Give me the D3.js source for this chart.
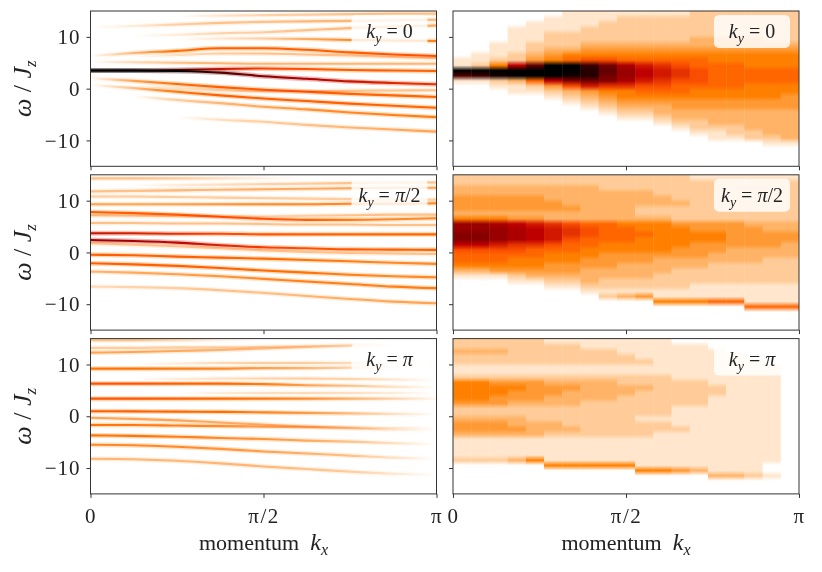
<!DOCTYPE html>
<html>
<head>
<meta charset="utf-8">
<script src="https://cdn.jsdelivr.net/npm/d3@7"></script>
<style>
  body { margin: 0; background: #fff; }
  text { font-family: "Liberation Serif", "Times New Roman", serif; fill: #222; }
</style>
</head>
<body>
<div id="chart"></div>
<script>
// kx knots for the sharp bands, in units of pi
const kxKnots = [0, 0.125, 0.25, 0.375, 0.5, 0.625, 0.75, 0.875, 1];
const xTickValues = [0, 0.5, 1];
const xTickLabels = ["0", "π/2", "π"];
const yTickValues = [-10, 0, 10];
const kyLabels = ["0", "π/2", "π"];

// left column: band energies w (omega/Jz) and weights a at each kx knot
const bandsKy0 = [
    { w: [13.8, 13.9, 14.0, 14.1, 14.2, 14.3, 14.4, 14.5, 14.5], a: [0, 0, 0, 0.04, 0.07, 0.08, 0.1, 0.1, 0.1] },
    { w: [11.8, 12.1, 12.4, 12.7, 12.9, 13.0, 13.1, 13.2, 13.3], a: [0, 0.03, 0.08, 0.1, 0.1, 0.12, 0.12, 0.12, 0.12] },
    { w: [10.0, 10.2, 10.4, 10.7, 10.9, 11.3, 11.7, 12.0, 12.2], a: [0, 0, 0.03, 0.07, 0.08, 0.1, 0.12, 0.14, 0.15] },
    { w: [9.5, 9.6, 9.6, 9.7, 9.7, 9.6, 9.4, 9.3, 9.2], a: [0, 0, 0, 0.04, 0.08, 0.14, 0.2, 0.22, 0.22] },
    { w: [6.3, 6.9, 7.3, 7.8, 7.8, 7.5, 7.0, 6.6, 6.3], a: [0, 0.12, 0.25, 0.28, 0.28, 0.28, 0.28, 0.3, 0.31] },
    { w: [6.0, 6.2, 6.5, 6.8, 6.8, 6.6, 6.4, 6.1, 5.9], a: [0, 0, 0.05, 0.08, 0.1, 0.1, 0.1, 0.1, 0.1] },
    { w: [5.2, 5.1, 5.0, 4.9, 4.8, 4.8, 4.8, 4.8, 4.8], a: [0, 0.06, 0.1, 0.12, 0.12, 0.12, 0.12, 0.12, 0.12] },
    { w: [3.5, 3.5, 3.6, 3.8, 3.9, 3.8, 3.6, 3.5, 3.4], a: [0.9, 0.9, 0.7, 0.45, 0.34, 0.3, 0.28, 0.28, 0.28] },
    { w: [3.5, 3.5, 3.4, 3.1, 2.4, 1.9, 1.4, 1.1, 0.85], a: [1, 1, 0.95, 0.75, 0.6, 0.5, 0.45, 0.4, 0.37] },
    { w: [2.0, 1.5, 0.9, 0.3, -0.2, -0.6, -1.0, -1.3, -1.6], a: [0, 0.15, 0.26, 0.28, 0.28, 0.28, 0.27, 0.27, 0.27] },
    { w: [1.0, 0.6, 0.1, -0.3, -0.5, -0.5, -0.4, -0.35, -0.3], a: [0, 0, 0.05, 0.08, 0.1, 0.1, 0.1, 0.1, 0.1] },
    { w: [0.7, 0.1, -0.6, -1.3, -1.9, -2.4, -2.9, -3.3, -3.7], a: [0, 0.1, 0.24, 0.28, 0.28, 0.28, 0.28, 0.27, 0.27] },
    { w: [-1.0, -1.5, -2.2, -2.8, -3.5, -4.0, -4.6, -5.1, -5.5], a: [0, 0, 0.08, 0.12, 0.15, 0.18, 0.2, 0.22, 0.22] },
    { w: [-4.5, -5.0, -5.5, -6.0, -6.4, -7.0, -7.5, -7.9, -8.3], a: [0, 0, 0, 0.05, 0.08, 0.1, 0.12, 0.14, 0.15] }
];

const bandsKyHalf = [
    { w: [14.3, 14.3, 14.3, 14.3, 14.3, 14.3, 14.3, 14.3, 14.3], a: [0.1, 0.1, 0.08, 0.05, 0.02, 0, 0, 0, 0] },
    { w: [12.8, 12.9, 13.0, 13.1, 13.2, 13.3, 13.4, 13.5, 13.5], a: [0, 0, 0.03, 0.05, 0.07, 0.08, 0.1, 0.1, 0.1] },
    { w: [11.8, 11.9, 12.0, 12.1, 12.2, 12.3, 12.4, 12.5, 12.5], a: [0.1, 0.1, 0.12, 0.12, 0.14, 0.14, 0.15, 0.15, 0.15] },
    { w: [10.8, 10.8, 10.7, 10.6, 10.5, 10.4, 10.3, 10.2, 10.2], a: [0.08, 0.08, 0.08, 0.08, 0.08, 0.08, 0.08, 0.08, 0.08] },
    { w: [9.3, 9.3, 9.3, 9.3, 9.3, 9.3, 9.4, 9.4, 9.5], a: [0.15, 0.15, 0.16, 0.18, 0.2, 0.2, 0.2, 0.2, 0.2] },
    { w: [7.8, 7.6, 7.3, 6.9, 6.5, 6.3, 6.3, 6.4, 6.6], a: [0.28, 0.28, 0.28, 0.3, 0.31, 0.28, 0.22, 0.2, 0.2] },
    { w: [7.2, 7.1, 7.0, 7.0, 7.0, 7.1, 7.2, 7.3, 7.3], a: [0.12, 0.1, 0.08, 0.06, 0.06, 0.08, 0.1, 0.1, 0.1] },
    { w: [5.7, 5.7, 5.6, 5.6, 5.5, 5.4, 5.4, 5.3, 5.3], a: [0.1, 0.1, 0.1, 0.1, 0.1, 0.1, 0.1, 0.1, 0.1] },
    { w: [3.7, 3.7, 3.6, 3.6, 3.5, 3.5, 3.5, 3.5, 3.5], a: [0.45, 0.42, 0.38, 0.33, 0.3, 0.28, 0.27, 0.27, 0.27] },
    { w: [2.4, 2.2, 1.9, 1.4, 1.0, 0.8, 0.6, 0.55, 0.5], a: [0.55, 0.52, 0.48, 0.42, 0.35, 0.31, 0.29, 0.28, 0.28] },
    { w: [1.8, 1.5, 1.2, 0.8, 0.4, 0.1, -0.1, -0.2, -0.3], a: [0.1, 0.1, 0.1, 0.1, 0.1, 0.1, 0.1, 0.1, 0.1] },
    { w: [-0.45, -0.55, -0.8, -1.0, -1.2, -1.45, -1.7, -2.0, -2.2], a: [0.28, 0.28, 0.28, 0.28, 0.26, 0.24, 0.22, 0.2, 0.2] },
    { w: [-2.1, -2.3, -2.6, -3.0, -3.5, -3.9, -4.3, -4.6, -4.8], a: [0.28, 0.28, 0.28, 0.28, 0.26, 0.24, 0.22, 0.2, 0.2] },
    { w: [-3.7, -3.9, -4.2, -4.6, -5.1, -5.6, -6.1, -6.6, -6.9], a: [0.12, 0.14, 0.16, 0.18, 0.2, 0.22, 0.22, 0.22, 0.22] },
    { w: [-6.6, -6.7, -6.9, -7.3, -7.8, -8.4, -9.0, -9.5, -9.8], a: [0.06, 0.07, 0.08, 0.1, 0.1, 0.12, 0.14, 0.15, 0.15] }
];

const bandsKyPi = [
    { w: [14.7, 14.7, 14.7, 14.7, 14.7, 14.7, 14.7, 14.7, 14.7], a: [0.1, 0.1, 0.06, 0.02, 0, 0, 0, 0, 0] },
    { w: [13.2, 13.2, 13.3, 13.3, 13.4, 13.5, 13.6, 13.7, 13.7], a: [0.08, 0.08, 0.08, 0.08, 0.07, 0.05, 0.03, 0, 0] },
    { w: [12.3, 12.4, 12.6, 12.8, 13.1, 13.4, 13.7, 13.9, 14.0], a: [0.15, 0.15, 0.14, 0.12, 0.1, 0.08, 0.05, 0.01, 0] },
    { w: [10.0, 10.1, 10.2, 10.3, 10.3, 10.3, 10.3, 10.3, 10.3], a: [0, 0, 0.03, 0.06, 0.08, 0.08, 0.06, 0.02, 0] },
    { w: [9.2, 9.2, 9.2, 9.2, 9.3, 9.3, 9.4, 9.4, 9.4], a: [0.24, 0.24, 0.22, 0.2, 0.16, 0.12, 0.07, 0.02, 0] },
    { w: [7.2, 7.2, 7.2, 7.3, 7.3, 7.3, 7.2, 7.1, 7.0], a: [0, 0, 0.03, 0.05, 0.07, 0.08, 0.07, 0.04, 0] },
    { w: [6.3, 6.3, 6.3, 6.3, 6.2, 6.0, 5.9, 5.7, 5.6], a: [0.3, 0.3, 0.28, 0.26, 0.22, 0.16, 0.1, 0.05, 0] },
    { w: [4.5, 4.5, 4.5, 4.5, 4.5, 4.5, 4.5, 4.5, 4.5], a: [0, 0, 0, 0.03, 0.05, 0.06, 0.05, 0.03, 0] },
    { w: [3.4, 3.4, 3.4, 3.4, 3.4, 3.4, 3.4, 3.4, 3.4], a: [0.3, 0.3, 0.28, 0.26, 0.23, 0.19, 0.13, 0.07, 0.01] },
    { w: [0.97, 0.95, 0.9, 0.85, 0.75, 0.65, 0.55, 0.45, 0.4], a: [0.28, 0.28, 0.27, 0.25, 0.21, 0.17, 0.11, 0.05, 0] },
    { w: [-0.3, -0.5, -0.8, -1.2, -1.6, -2.0, -2.3, -2.6, -2.7], a: [0.15, 0.15, 0.15, 0.14, 0.12, 0.1, 0.07, 0.03, 0] },
    { w: [-1.7, -1.7, -1.8, -1.9, -2.0, -2.1, -2.2, -2.3, -2.3], a: [0.24, 0.23, 0.22, 0.19, 0.16, 0.12, 0.08, 0.04, 0] },
    { w: [-3.7, -3.8, -3.95, -4.2, -4.4, -4.7, -4.9, -5.2, -5.4], a: [0.24, 0.24, 0.22, 0.2, 0.18, 0.14, 0.1, 0.05, 0] },
    { w: [-5.5, -5.6, -5.9, -6.3, -6.8, -7.2, -7.6, -8.0, -8.2], a: [0.2, 0.2, 0.2, 0.18, 0.16, 0.13, 0.1, 0.05, 0] },
    { w: [-8.2, -8.3, -8.6, -9.1, -9.7, -10.2, -10.7, -11.1, -11.3], a: [0.12, 0.12, 0.12, 0.12, 0.12, 0.1, 0.08, 0.04, 0] }
];

// right column: 19 kx columns, each a string of 30 cells from omega=15 (top) to -15
// char value / 20 is the spectral weight (0 white ... k black)
const mapKy0 = [
    "00000 00001 1kg10 00000 00000 00000",
    "00000 00011 2kh10 00000 00000 00000",
    "00000 01112 5kj21 00000 00000 00000",
    "00011 11122 akk31 10000 00000 00000",
    "00111 12234 fkk62 10000 00000 00000",
    "01112 22345 kkka4 21000 00000 00000",
    "11112 22356 kkjd7 32100 00000 00000",
    "11122 23457 hiie9 43210 00000 00000",
    "11222 23457 efed8 54321 00000 00000",
    "12222 23456 bccb8 55432 10000 00000",
    "12222 23456 9aa97 65432 10000 00000",
    "12222 23456 89987 65433 21000 00000",
    "12222 23456 78876 65443 32100 00000",
    "22222 33456 67776 55443 32210 00000",
    "22222 33455 66666 55443 33211 00000",
    "22222 33455 66666 55443 33221 00000",
    "22222 33455 56665 55443 33322 00000",
    "22222 23455 56665 55443 33332 10000",
    "22222 23455 56665 54443 33333 10000"
];

const mapKyHalf = [
    "22334 4435c cdda7 66531 00000 00000",
    "22334 4435c cdda7 66531 00000 00000",
    "22334 4435b ccc97 66541 00000 00000",
    "22334 4434a bbb87 65542 10000 00000",
    "22334 44349 aaa86 65543 10000 00000",
    "22333 44338 99976 55443 21000 00000",
    "22333 34337 88766 55443 21000 00000",
    "22333 33336 77665 54433 32100 00000",
    "22233 33336 66655 44433 22120 00000",
    "22233 33335 66655 44333 22130 00000",
    "22233 32235 56555 44333 22140 00000",
    "22223 32235 55555 43332 22115 00000",
    "22222 32224 55554 43322 22115 00000",
    "12222 22224 45544 43322 21115 00000",
    "12222 22224 45544 33222 21116 00000",
    "12222 22224 44443 33222 21116 00000",
    "12222 22223 44443 33222 21111 60000",
    "12222 22223 34443 32222 21111 60000",
    "12222 22223 34433 32222 21111 60000"
];

const mapKyPi = [
    "22322 11255 55422 34431 11120 00000",
    "22322 11255 55422 34431 11120 00000",
    "22322 11245 54422 34431 11120 00000",
    "22222 11245 44322 33431 11130 00000",
    "22222 11244 44322 23331 11150 00000",
    "12222 11234 43322 23321 11115 00000",
    "12222 11234 33322 22321 11115 00000",
    "11222 11233 33222 22221 11115 00000",
    "11222 11233 33222 22221 11115 00000",
    "11122 11223 32222 22221 11115 00000",
    "11112 11223 22222 12221 11111 50000",
    "11111 11222 22222 12211 11111 50000",
    "01111 11122 22211 11211 11111 40000",
    "01111 11122 22211 11111 11111 30000",
    "00111 11112 21111 11111 11111 13000",
    "00011 11111 11111 11111 11111 13000",
    "00001 11111 11111 11111 11111 12000",
    "00000 11111 11111 11111 11110 01000",
    "00000 00000 00000 00000 00000 00000"
];

const leftBands = [bandsKy0, bandsKyHalf, bandsKyPi];
const rightMaps = [mapKy0, mapKyHalf, mapKyPi];

const width = 822, height = 572;
const colX = [90.5, 453];
const rowY = [11, 174.8, 338.6];
const panelW = 346, panelH = 155.3;

const svg = d3.select("#chart").append("svg")
    .attr("width", width)
    .attr("height", height);
const defs = svg.append("defs");

const x = d3.scaleLinear().domain([0, 1]).range([0, panelW]);
const y = d3.scaleLinear().domain([-15, 15]).range([panelH, 0]);
const xCol = d3.scaleBand().domain(d3.range(19)).range([0, panelW]);

// gist_heat reversed
const cmap = d3.scaleLinear()
    .domain([0, 0.25, 1 / 3, 0.5, 1])
    .range(["#ffffff", "#ff8000", "#ff5500", "#bf0000", "#000000"])
    .clamp(true);

const line = d3.line()
    .x((d, i) => x(kxKnots[i]))
    .y(d => y(d))
    .curve(d3.curveMonotoneX);

defs.append("clipPath").attr("id", "panelClip")
    .append("rect").attr("width", panelW).attr("height", panelH);

function addKy(textSel, val) {
    textSel.append("tspan").style("font-style", "italic").text("k");
    textSel.append("tspan").attr("dy", 5).attr("font-size", 14).style("font-style", "italic").text("y");
    textSel.append("tspan").attr("dy", -5).text(" = ");
    if (val.startsWith("π")) {
        textSel.append("tspan").style("font-style", "italic").text("π");
        textSel.append("tspan").text(val.slice(1));
    } else {
        textSel.append("tspan").text(val);
    }
}

function drawAxes(g, r, c) {
    g.append("g")
        .attr("transform", `translate(0,${panelH})`)
        .call(d3.axisBottom(x).tickValues(xTickValues).tickSize(4).tickPadding(10)
            .tickFormat((d, i) => r === 2 ? xTickLabels[i] : ""))
        .call(a => a.select(".domain").remove())
        .attr("font-size", 21).attr("font-family", null).attr("color", "#333")
        .selectAll("text").style("letter-spacing", "1.5px");

    g.append("g")
        .call(d3.axisLeft(y).tickValues(yTickValues).tickSize(4).tickPadding(6)
            .tickFormat(c === 0 ? d3.format("d") : () => ""))
        .call(a => a.select(".domain").remove())
        .attr("font-size", 21).attr("font-family", null).attr("color", "#333")
        .selectAll("text").style("letter-spacing", "1px");

    g.append("rect")
        .attr("width", panelW)
        .attr("height", panelH)
        .attr("fill", "none")
        .attr("stroke", "#333")
        .attr("stroke-width", 1);
}

function drawLabelBox(g, r) {
    g.append("rect")
        .attr("x", panelW - 85)
        .attr("y", 4)
        .attr("width", 76)
        .attr("height", 33)
        .attr("rx", 5)
        .attr("fill", "#fff")
        .attr("fill-opacity", 0.82);
    const t = g.append("text")
        .attr("x", panelW - 47)
        .attr("y", 27)
        .attr("text-anchor", "middle")
        .attr("font-size", 20);
    addKy(t, kyLabels[r]);
}

rowY.forEach((top, r) => {
    // left: sharp bands
    const gl = svg.append("g").attr("transform", `translate(${colX[0]},${top})`);
    const inner = gl.append("g").attr("clip-path", "url(#panelClip)");

    leftBands[r].forEach((band, i) => {
        const id = `band${r}_${i}`;
        const grad = defs.append("linearGradient")
            .attr("id", id)
            .attr("gradientUnits", "userSpaceOnUse")
            .attr("x1", x(0)).attr("x2", x(1))
            .attr("y1", 0).attr("y2", 0);
        grad.selectAll("stop")
            .data(band.a)
            .enter().append("stop")
            .attr("offset", (d, j) => kxKnots[j])
            .attr("stop-color", d => cmap(d));

        inner.append("path")
            .attr("d", line(band.w))
            .attr("fill", "none")
            .attr("stroke", `url(#${id})`)
            .attr("stroke-width", 5)
            .attr("stroke-opacity", 0.28)
            .style("mix-blend-mode", "multiply");
        inner.append("path")
            .attr("d", line(band.w))
            .attr("fill", "none")
            .attr("stroke", `url(#${id})`)
            .attr("stroke-width", 2.1)
            .style("mix-blend-mode", "multiply");
    });
    drawLabelBox(gl, r);
    drawAxes(gl, r, 0);

    // right: coarse spectral map, one vertical gradient per kx column
    const gr = svg.append("g").attr("transform", `translate(${colX[1]},${top})`);
    const columns = rightMaps[r].map(s => s.replace(/ /g, "").split("").map(ch => parseInt(ch, 36) / 20));

    columns.forEach((col, j) => {
        const id = `map${r}_${j}`;
        const grad = defs.append("linearGradient")
            .attr("id", id)
            .attr("gradientUnits", "userSpaceOnUse")
            .attr("x1", 0).attr("x2", 0)
            .attr("y1", y(15)).attr("y2", y(-15));
        grad.selectAll("stop")
            .data(col)
            .enter().append("stop")
            .attr("offset", (d, k) => (k + 0.5) / col.length)
            .attr("stop-color", d => cmap(d));
    });

    gr.append("g").attr("clip-path", "url(#panelClip)")
        .selectAll("rect")
        .data(columns)
        .enter().append("rect")
        .attr("x", (d, j) => xCol(j))
        .attr("width", xCol.bandwidth() + 0.4)
        .attr("y", y(15))
        .attr("height", y(-15) - y(15))
        .attr("fill", (d, j) => `url(#map${r}_${j})`);
    drawLabelBox(gr, r);
    drawAxes(gr, r, 1);

    // y label
    const yl = svg.append("text")
        .attr("transform", `translate(31,${top + panelH / 2}) rotate(-90)`)
        .attr("text-anchor", "middle")
        .attr("font-size", 26);
    yl.append("tspan").style("font-style", "italic").text("ω");
    yl.append("tspan").text(" / ");
    yl.append("tspan").style("font-style", "italic").text("J");
    yl.append("tspan").attr("dy", 5).attr("font-size", 17).style("font-style", "italic").text("z");
});

// x labels
colX.forEach(cx => {
    const t = svg.append("text")
        .attr("x", cx + panelW / 2)
        .attr("y", 550)
        .attr("text-anchor", "middle")
        .attr("font-size", 22);
    t.append("tspan").text("momentum\u2002");
    t.append("tspan").style("font-style", "italic").attr("font-size", 24).text("k");
    t.append("tspan").attr("dy", 5).attr("font-size", 16).style("font-style", "italic").text("x");
});
</script>
</body>
</html>
